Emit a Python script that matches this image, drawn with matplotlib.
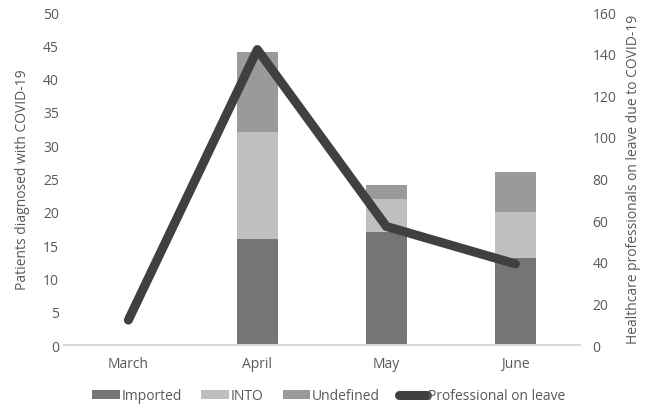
import numpy as np
import matplotlib
matplotlib.use("Agg")
from matplotlib import pyplot as plt

plt.rcParams['font.family'] = ['Open Sans', 'DejaVu Sans']

months = ['March', 'April', 'May', 'June']
imported = [0, 16, 17, 13]
into = [0, 16, 5, 7]
undefined = [0, 12, 2, 6]
on_leave = [12, 142, 57, 39]

txt = '#595959'
fs = 10
fig = plt.figure(figsize=(6.45, 4.1), dpi=100)
ax = fig.add_axes([0.099, 0.156, 0.80, 0.812])
ax2 = ax.twinx()

x = np.arange(len(months))
w = 0.32
b1 = np.array(imported)
b2 = b1 + np.array(into)
ax.bar(x, imported, w, color='#757578', label='Imported')
ax.bar(x, into, w, bottom=b1, color='#bfbfc2', label='INTO')
ax.bar(x, undefined, w, bottom=b2, color='#9a9a9d', label='Undefined')
ax2.plot(x, on_leave, color='#404043', lw=6.5, solid_capstyle='round',
         solid_joinstyle='round', label='Professional on leave')

ax.set_xlim(-0.5, 3.5)
ax.set_ylim(0, 50)
ax.set_yticks(range(0, 51, 5))
ax2.set_ylim(0, 160)
ax2.set_yticks(range(0, 161, 20))
ax.set_xticks(x)
ax.set_xticklabels(months)

for a in (ax, ax2):
    for s in a.spines.values():
        s.set_visible(False)
    a.tick_params(length=0, colors=txt, labelsize=fs)
ax.spines['bottom'].set_visible(True)
ax.spines['bottom'].set_color('#d9d9d9')
ax.spines['bottom'].set_linewidth(1.5)
ax.tick_params(axis='x', pad=8)
ax2.tick_params(axis='y', pad=9)

ax.set_ylabel('Patients diagnosed with COVID-19', color=txt, fontsize=fs, labelpad=9)
ax2.set_ylabel('Healthcare professionals on leave due to COVID-19', color=txt, fontsize=fs, labelpad=7)

h1, l1 = ax.get_legend_handles_labels()
h2, l2 = ax2.get_legend_handles_labels()
fig.legend(h1 + h2, l1 + l2, loc='center', bbox_to_anchor=(0.51, 0.032), ncol=4,
           frameon=False, fontsize=fs, labelcolor=txt, handlelength=2.0,
           handletextpad=0.1, columnspacing=1.4)

fig.savefig('out.png', dpi=100)
